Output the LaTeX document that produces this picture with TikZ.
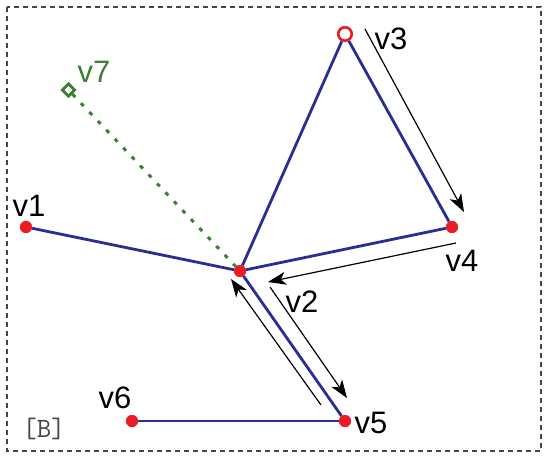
\documentclass[tikz,border=0pt]{standalone}
\usepackage{fontspec}
\setmainfont{Liberation Sans}
\usetikzlibrary{arrows.meta,shapes.geometric}
\definecolor{edgeblue}{RGB}{42,45,145}
\definecolor{dotred}{RGB}{237,28,36}
\definecolor{vgreen}{RGB}{58,128,50}
\definecolor{framegray}{RGB}{70,70,70}
\tikzset{
  dot/.style={circle,fill=dotred,inner sep=0pt,minimum size=12pt},
  opendot/.style={circle,draw=dotred,line width=2.6pt,fill=white,inner sep=0pt,minimum size=13.5pt},
  gdiamond/.style={diamond,draw=vgreen,line width=2.8pt,fill=white,inner sep=0pt,minimum size=13.5pt},
  edge/.style={draw=edgeblue,line width=2.8pt},
  gdots/.style={draw=vgreen,line width=3pt,dash pattern=on 4pt off 8.3pt},
  walk/.style={draw=black,line width=1.2pt,-{Stealth[length=18pt,width=13pt,inset=5pt]}},
  lbl/.style={font=\fontsize{31}{32}\selectfont,inner sep=0pt},
}
\begin{document}
\begin{tikzpicture}[x=1pt,y=-1pt]
\useasboundingbox (0,0) rectangle (549,459);
\draw[framegray,line width=1.2pt,dash pattern=on 5pt off 4pt] (7,7) rectangle (541,451);

\node[dot] (v1) at (26,227) {};
\node[dot] (v2) at (240,271) {};
\node[opendot] (v3) at (345,34) {};
\node[dot] (v4) at (452,227) {};
\node[dot] (v5) at (345,421) {};
\node[dot] (v6) at (132,421) {};
\node[gdiamond] (v7) at (68.5,90) {};

\draw[gdots] (v7) -- (v2);
\draw[edge] (v1) -- (v2);
\draw[edge] (v2) -- (v3);
\draw[edge] (v3) -- (v4);
\draw[edge] (v4) -- (v2);
\draw[edge] (v2) -- (v5);
\draw[edge] (v5) -- (v6);
\node[dot] at (v1) {};
\node[dot] at (v2) {};
\node[dot] at (v4) {};
\node[dot] at (v5) {};
\node[dot] at (v6) {};

\coordinate (a1s) at (365,29);
\coordinate (a1e) at (464,212);
\coordinate (a2s) at (456,243);
\coordinate (a2e) at (268,282);
\coordinate (a3s) at (270,287);
\coordinate (a3e) at (347,398);
\coordinate (a4s) at (321,405);
\coordinate (a4e) at (231,279);
\draw[walk] (a1s) -- (a1e);
\draw[walk] (a2s) -- (a2e);
\draw[walk] (a3s) -- (a3e);
\draw[walk] (a4s) -- (a4e);

\node[lbl] (l1) at (29,206) {v1};
\node[lbl] (l2) at (302,302) {v2};
\node[lbl] (l3) at (391,39) {v3};
\node[lbl] (l4) at (462,261) {v4};
\node[lbl] (l5) at (371,423) {v5};
\node[lbl] (l6) at (115,398) {v6};
\node[lbl,text=vgreen] (l7) at (94,72) {v7};
\node[inner sep=0pt,text=framegray,font=\ttfamily\fontsize{28}{29}\selectfont] (lb) at (44,429) {[B]};
\end{tikzpicture}
\end{document}
